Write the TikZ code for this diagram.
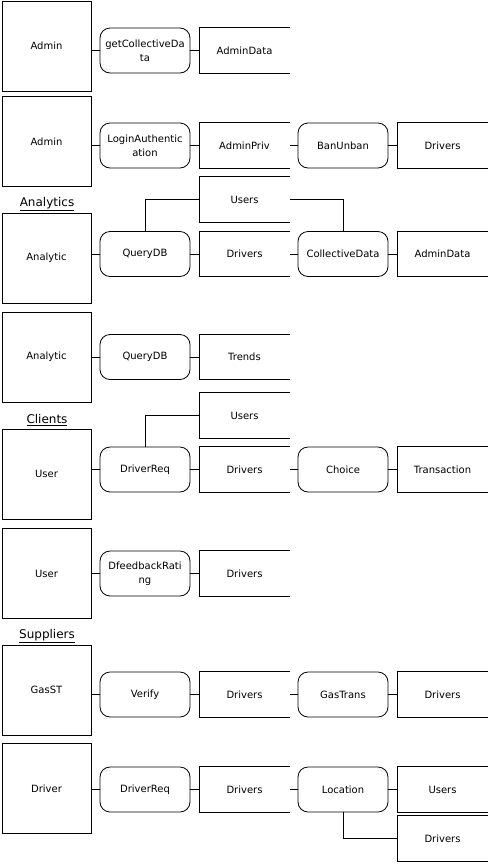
\documentclass[tikz,border=0pt]{standalone}
\usepackage{fontspec}
\setmainfont{DejaVu Sans}
\tikzset{
  every node/.style={font=\fontsize{10}{14}\selectfont},
  entity/.style={draw, line width=0.8pt, minimum width=89pt, minimum height=90pt, inner sep=0pt},
  proc/.style={draw, line width=0.8pt, rounded corners=10pt, minimum width=90pt, minimum height=45pt, inner sep=0pt, align=center},
  store/.style={minimum width=90pt, minimum height=45pt, inner sep=0pt},
  grouplabel/.style={font=\fontsize{12}{14}\selectfont, inner sep=0pt},
  link/.style={line width=0.8pt}
}
\begin{document}
\begin{tikzpicture}[x=1pt,y=-1pt]
\useasboundingbox (0,0) rectangle (491,865);
% admin
\node[entity] (admA) at (46.5,46) {Admin};
\node[proc] (getcd) at (145,50.5) {getCollectiveDa\\ta};
\node[store] (admdatA) at (244.5,50.5) {AdminData};
\node[entity] (admB) at (46.5,141.5) {Admin};
\node[proc] (login) at (145,145.5) {LoginAuthentic\\ation};
\node[store] (adpriv) at (244.5,145.5) {AdminPriv};
\node[proc] (banun) at (343,145.5) {BanUnban};
\node[store] (drvA) at (442.5,145.5) {Drivers};
% analytics
\node[grouplabel] (lanalytics) at (47,204) {\underline{Analytics}};
\node[entity] (anaA) at (46.5,258) {Analytic};
\node[proc] (qdbA) at (145,254) {QueryDB};
\node[store] (usrA) at (244.5,199.5) {Users};
\node[store] (drvB) at (244.5,254) {Drivers};
\node[proc] (coll) at (343,254) {CollectiveData};
\node[store] (admdatB) at (442.5,254) {AdminData};
\node[entity] (anaB) at (46.5,357) {Analytic};
\node[proc] (qdbB) at (145,357) {QueryDB};
\node[store] (trends) at (244.5,357) {Trends};
% clients
\node[grouplabel] (lclients) at (47,420) {\underline{Clients}};
\node[entity] (userA) at (46.5,474) {User};
\node[proc] (drqA) at (145,469.5) {DriverReq};
\node[store] (usrB) at (244.5,415.5) {Users};
\node[store] (drvC) at (244.5,469.5) {Drivers};
\node[proc] (choice) at (343,469.5) {Choice};
\node[store] (trans) at (442.5,469.5) {Transaction};
\node[entity] (userB) at (46.5,573.5) {User};
\node[proc] (dfb) at (145,573.5) {DfeedbackRati\\ng};
\node[store] (drvD) at (244.5,573.5) {Drivers};
% suppliers
\node[grouplabel] (lsuppliers) at (47,636) {\underline{Suppliers}};
\node[entity] (gasst) at (46.5,690) {GasST};
\node[proc] (verify) at (145,694.5) {Verify};
\node[store] (drvE) at (244.5,694.5) {Drivers};
\node[proc] (gastr) at (343,694.5) {GasTrans};
\node[store] (drvF) at (442.5,694.5) {Drivers};
\node[entity] (driver) at (46.5,788.5) {Driver};
\node[proc] (drqB) at (145,789.5) {DriverReq};
\node[store] (drvG) at (244.5,789.5) {Drivers};
\node[proc] (loc) at (343,789.5) {Location};
\node[store] (usrC) at (442.5,789.5) {Users};
\node[store] (drvH) at (442.5,838.5) {Drivers};
% open-ended stores
\foreach \s in {admdatA,adpriv,drvA,usrA,drvB,admdatB,trends,usrB,drvC,trans,drvD,drvE,drvF,drvG,usrC,drvH}
  \draw[link] (\s.north east) -- (\s.north west) -- (\s.south west) -- (\s.south east);
% flows
\draw[link] (admA.east |- getcd) -- (getcd);
\draw[link] (getcd) -- (admdatA);
\draw[link] (admB.east |- login) -- (login);
\draw[link] (login) -- (adpriv);
\draw[link] (adpriv) -- (banun);
\draw[link] (banun) -- (drvA);
\draw[link] (anaA.east |- qdbA) -- (qdbA);
\draw[link] (qdbA) -- (drvB);
\draw[link] (qdbA.north) |- (usrA.west);
\draw[link] (usrA.east) -| (coll.north);
\draw[link] (drvB) -- (coll);
\draw[link] (coll) -- (admdatB);
\draw[link] (anaB.east |- qdbB) -- (qdbB);
\draw[link] (qdbB) -- (trends);
\draw[link] (userA.east |- drqA) -- (drqA);
\draw[link] (drqA.north) |- (usrB.west);
\draw[link] (drqA) -- (drvC);
\draw[link] (drvC) -- (choice);
\draw[link] (choice) -- (trans);
\draw[link] (userB.east |- dfb) -- (dfb);
\draw[link] (dfb) -- (drvD);
\draw[link] (gasst.east |- verify) -- (verify);
\draw[link] (verify) -- (drvE);
\draw[link] (drvE) -- (gastr);
\draw[link] (gastr) -- (drvF);
\draw[link] (driver.east |- drqB) -- (drqB);
\draw[link] (drqB) -- (drvG);
\draw[link] (drvG) -- (loc);
\draw[link] (loc) -- (usrC);
\draw[link] (loc.south) |- (drvH.west);
\end{tikzpicture}
\end{document}
